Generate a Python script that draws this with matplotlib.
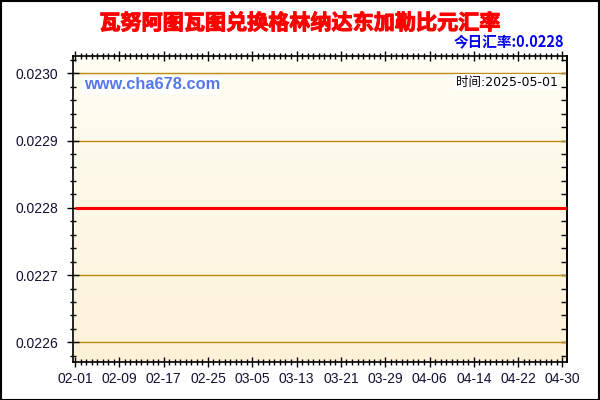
import numpy as np
import matplotlib
matplotlib.use("Agg")
import matplotlib.pyplot as plt
import matplotlib.dates as mdates
import matplotlib.patheffects as pe
from matplotlib.ticker import MultipleLocator, FormatStrFormatter, NullFormatter
from matplotlib.colors import LinearSegmentedColormap
import datetime as dt

plt.rcParams['font.family'] = ['Liberation Sans', 'Noto Sans CJK SC', 'DejaVu Sans']

title = "瓦努阿图瓦图兑换格林纳达东加勒比元汇率"
today_label = "今日汇率:0.0228"
site_label = "www.cha678.com"
time_label = "时间:2025-05-01"

start_date = "2025-02-01"
end_date = "2025-05-01"
rates = [
    0.0228, 0.0228, 0.0228, 0.0228, 0.0228, 0.0228, 0.0228, 0.0228, 0.0228, 0.0228,
    0.0228, 0.0228, 0.0228, 0.0228, 0.0228, 0.0228, 0.0228, 0.0228, 0.0228, 0.0228,
    0.0228, 0.0228, 0.0228, 0.0228, 0.0228, 0.0228, 0.0228, 0.0228, 0.0228, 0.0228,
    0.0228, 0.0228, 0.0228, 0.0228, 0.0228, 0.0228, 0.0228, 0.0228, 0.0228, 0.0228,
    0.0228, 0.0228, 0.0228, 0.0228, 0.0228, 0.0228, 0.0228, 0.0228, 0.0228, 0.0228,
    0.0228, 0.0228, 0.0228, 0.0228, 0.0228, 0.0228, 0.0228, 0.0228, 0.0228, 0.0228,
    0.0228, 0.0228, 0.0228, 0.0228, 0.0228, 0.0228, 0.0228, 0.0228, 0.0228, 0.0228,
    0.0228, 0.0228, 0.0228, 0.0228, 0.0228, 0.0228, 0.0228, 0.0228, 0.0228, 0.0228,
    0.0228, 0.0228, 0.0228, 0.0228, 0.0228, 0.0228, 0.0228, 0.0228, 0.0228, 0.0228,
]
y_ticks = [0.0226, 0.0227, 0.0228, 0.0229, 0.0230]

d0 = dt.datetime.strptime(start_date, "%Y-%m-%d")
d1 = dt.datetime.strptime(end_date, "%Y-%m-%d")
n = (d1 - d0).days + 1
dates = [d0 + dt.timedelta(days=i) for i in range(n)]
rates = rates[:n]

fig = plt.figure(figsize=(6, 4), dpi=100)
fig.patch.set_facecolor('white')
ax = fig.add_axes([0.1222, 0.0958, 0.8236, 0.765])

x0 = mdates.date2num(d0) - 0.3
x1 = mdates.date2num(d1) - 0.1
y0, y1 = 0.0225712, 0.0230262

cmap = LinearSegmentedColormap.from_list('bg', ['#FDF1D8', '#FEFEF4'])
grad = np.linspace(0, 1, 256).reshape(-1, 1)
ax.imshow(grad, cmap=cmap, aspect='auto', extent=[x0, x1, y0, y1], zorder=0, origin='lower')
ax.set_xlim(x0, x1)
ax.set_ylim(y0, y1)

for yv in y_ticks:
    ax.axhline(yv, color='#BC8A0E', lw=1.0, zorder=1)

ax.plot(dates, rates, color='#FF0000', lw=2.2, zorder=3, solid_capstyle='butt')

ax.set_xticks([mdates.date2num(d0 + dt.timedelta(days=8 * k)) for k in range(12)])
ax.xaxis.set_major_formatter(mdates.DateFormatter('%m-%d'))
ax.xaxis.set_minor_locator(mdates.DayLocator())
ax.set_yticks(y_ticks)
ax.yaxis.set_major_formatter(FormatStrFormatter('%.4f'))
ax.yaxis.set_minor_locator(MultipleLocator(0.00002))

ax.tick_params(axis='x', which='major', direction='inout', length=7, width=1, labelsize=10,
               top=True, pad=4, colors='black')
ax.tick_params(axis='x', which='minor', direction='inout', length=4.5, width=1, top=True)
ax.tick_params(axis='y', which='major', direction='inout', length=8, width=1, labelsize=10,
               right=False, pad=7)
ax.tick_params(axis='y', which='minor', direction='inout', length=5, width=1, right=False)
for lbl in ax.get_xticklabels() + ax.get_yticklabels():
    lbl.set_color('#111133')

sec = ax.secondary_yaxis('right')
sec.set_yticks(y_ticks)
sec.yaxis.set_minor_locator(MultipleLocator(0.00002))
sec.yaxis.set_major_formatter(NullFormatter())
sec.tick_params(axis='y', which='both', direction='in', length=4, width=1)
sec.spines['right'].set_linewidth(1.2)

for sp in ax.spines.values():
    sp.set_color('black')
    sp.set_linewidth(1.2)

fig.text(0.5, 1 - 23 / 400, title, ha='center', va='center', color='#FF0000',
         fontsize=15.2, fontweight='bold', family=['Noto Sans CJK SC', 'DejaVu Sans'],
         path_effects=[pe.withStroke(linewidth=0.8, foreground='#FF0000')])
fig.text(0.94, 1 - 42.5 / 400, today_label, ha='right', va='center', color='#0000F0',
         fontsize=10.5, fontweight='bold', family=['Noto Sans CJK SC', 'DejaVu Sans'])
ax.text(0.021, 0.905, site_label, transform=ax.transAxes, ha='left', va='center',
        color='#5577EE', fontsize=11.8, fontweight='bold', zorder=4,
        bbox=dict(facecolor='white', edgecolor='none', pad=1))
ax.text(0.98, 0.913, time_label, transform=ax.transAxes, ha='right', va='center',
        color='black', fontsize=9, zorder=4, family=['DejaVu Sans', 'Noto Sans CJK SC'],
        bbox=dict(facecolor='white', edgecolor='none', pad=1))

fig.add_artist(plt.Rectangle((0.001, 0.001), 0.997, 0.996, transform=fig.transFigure,
                             fill=False, edgecolor='black', lw=1.5))

fig.savefig('out.png', dpi=100)
